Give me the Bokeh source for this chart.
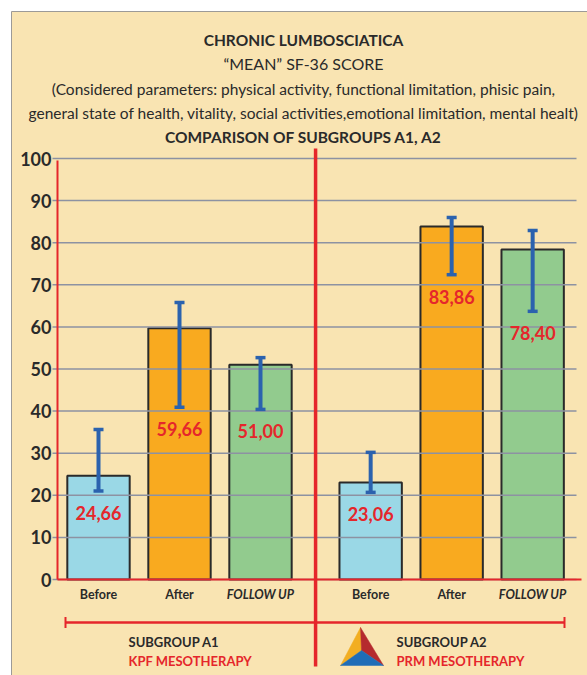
from bokeh.plotting import figure
from bokeh.models import ColumnDataSource, Range1d, Whisker, TeeHead
from bokeh.core.properties import value
from bokeh.embed import file_html
from bokeh.resources import INLINE

# ---------------- data ----------------
groups = ["A1", "A2"]
phases = ["Before", "After", "FOLLOW UP"]
mean_a1 = [24.66, 59.66, 51.00]
mean_a2 = [23.06, 83.86, 78.40]
low_a1 = [21.0, 40.9, 40.4]
high_a1 = [35.6, 65.8, 52.7]
low_a2 = [20.7, 72.4, 63.7]
high_a2 = [30.2, 86.0, 82.9]
y_ticks = [0, 10, 20, 30, 40, 50, 60, 70, 80, 90, 100]
subgroup_names = ["SUBGROUP A1", "SUBGROUP A2"]
therapies = ["KPF MESOTHERAPY", "PRM MESOTHERAPY"]
title_bold = ["CHRONIC LUMBOSCIATICA", "COMPARISON OF SUBGROUPS A1, A2"]
title_regular = [
    "\u201cMEAN\u201d SF-36 SCORE",
    "(Considered parameters: physical activity, functional limitation, phisic pain,",
    "general state of health, vitality, social activities,emotional limitation, mental healt)",
]

# ---------------- style / layout ----------------
TAN = "#F9E4B2"
RED = "#E5262B"
BLUE = "#2B62AE"
DARK = "#2A2A2A"
GRID = "#8D92A2"
phase_colors = ["#9AD8E6", "#F9AA1F", "#92CB8E"]
FONT = value("Lato")

W, H = 587, 675
GAP = 0.36                 # extra space between the two subgroups (in bar slots)
U = 81.0                   # pixels per bar slot
X0_PX = 98.0               # pixel column of first bar centre
Y0_PX, Y100_PX = 579.0, 158.0
PPU = (Y0_PX - Y100_PX) / 100.0


def X(px):
    return (px - X0_PX) / U


def Y(py):
    return (Y0_PX - py) / PPU


p = figure(width=W, height=H,
           x_range=Range1d(X(0), X(W)), y_range=Range1d(Y(H), Y(0)),
           output_backend="svg", toolbar_location=None,
           x_axis_location=None, y_axis_location=None,
           min_border=0, background_fill_color="white",
           border_fill_color="white", outline_line_color=None)
p.xgrid.visible = False
p.ygrid.visible = False

# panel background with thin grey border
p.quad(left=[X(11)], right=[X(W + 20)], top=[Y(11)], bottom=[Y(H + 20)],
       fill_color=TAN, line_color="#9C9A98", line_width=1)

# bar positions from category indices
xs, means, lows, highs, cols, names = [], [], [], [], [], []
for gi, (g, m, lo, hi) in enumerate(zip(groups, [mean_a1, mean_a2],
                                        [low_a1, low_a2], [high_a1, high_a2])):
    for pi, ph in enumerate(phases):
        xs.append(gi * (len(phases) + GAP) + pi)
        means.append(m[pi])
        lows.append(lo[pi])
        highs.append(hi[pi])
        cols.append(phase_colors[pi])
        names.append(ph)

src = ColumnDataSource(dict(
    x=xs, top=means, low=lows, high=highs, color=cols, name=names,
    label=[f"{v:.2f}".replace(".", ",") for v in means],
    style=["bold italic" if n == "FOLLOW UP" else "bold" for n in names],
))

p.vbar(x="x", top="top", bottom=0, width=0.77, source=src,
       fill_color="color", line_color=DARK, line_width=2)

# grid lines over the bars
p.segment(x0=[X(52)] * len(y_ticks), x1=[X(576)] * len(y_ticks),
          y0=y_ticks, y1=y_ticks, line_color=GRID, line_width=1.5)

# y tick labels
p.text(x=[X(51)] * len(y_ticks), y=y_ticks, text=[str(t) for t in y_ticks],
       text_font=FONT, text_font_style="bold", text_font_size="18px",
       text_color=DARK, text_align="right", text_baseline="alphabetic")

# error bars
p.add_layout(Whisker(source=src, base="x", lower="low", upper="high",
                     line_color=BLUE, line_width=4, level="glyph",
                     upper_head=TeeHead(size=10, line_color=BLUE, line_width=3.5),
                     lower_head=TeeHead(size=10, line_color=BLUE, line_width=3.5)))

# values inside bars
p.text(x="x", y="low", text="label", source=src, text_font=FONT,
       text_font_style="bold", text_font_size="18px", text_color=RED,
       text_align="center", text_baseline="middle", y_offset=22)

# category labels
p.text(x="x", y=Y(594), text="name", source=src, text_font=FONT,
       text_font_style="style", text_font_size="12.5px", text_color=DARK,
       text_align="center", text_baseline="middle")

# red axis line, baseline and divider
p.segment(x0=[X(57)], x1=[X(57)], y0=[0], y1=[Y(160)], line_color=RED, line_width=2)
p.segment(x0=[X(57)], x1=[X(581)], y0=[0], y1=[0], line_color=RED, line_width=2)
mid = (xs[len(phases) - 1] + xs[len(phases)]) / 2
p.segment(x0=[mid], x1=[mid], y0=[Y(666)], y1=[Y(148)], line_color=RED, line_width=3.5)

# bracket
p.segment(x0=[X(65)], x1=[X(564)], y0=[Y(622)], y1=[Y(622)], line_color=RED, line_width=2.5)
p.segment(x0=[X(65), X(564)], x1=[X(65), X(564)], y0=[Y(616.5)] * 2, y1=[Y(627.5)] * 2,
          line_color=RED, line_width=2)

# subgroup labels
p.text(x=[X(128), X(396)], y=[Y(641.5)] * 2, text=subgroup_names, text_font=FONT,
       text_font_style="bold", text_font_size="13px", text_color=DARK,
       text_align="left", text_baseline="middle")
p.text(x=[X(128), X(396)], y=[Y(660.5)] * 2, text=therapies, text_font=FONT,
       text_font_style="bold", text_font_size="13px", text_color=RED,
       text_align="left", text_baseline="middle")

# logo
apex, bl, br, ctr = (360, 627), (340, 665), (383, 665), (361, 650)
for pts, col in [((apex, ctr, bl), "#F2AE22"), ((apex, br, ctr), "#B52A2E"),
                 ((bl, ctr, br), "#1F6DB7")]:
    p.patch(x=[X(a) for a, b in pts], y=[Y(b) for a, b in pts],
            fill_color=col, line_color=col, line_width=0.5)

# titles
p.text(x=[X(303)] * 2, y=[Y(39), Y(136)], text=title_bold, text_font=FONT,
       text_font_style="bold", text_font_size="15.5px", text_color=DARK,
       text_align="center", text_baseline="alphabetic")
p.text(x=[X(303)] * 3, y=[Y(63), Y(88), Y(112)], text=title_regular, text_font=FONT,
       text_font_size=["16px", "15.5px", "15.5px"], text_color=DARK,
       text_align="center", text_baseline="alphabetic")

open("out.html", "w").write(file_html(p, INLINE))
